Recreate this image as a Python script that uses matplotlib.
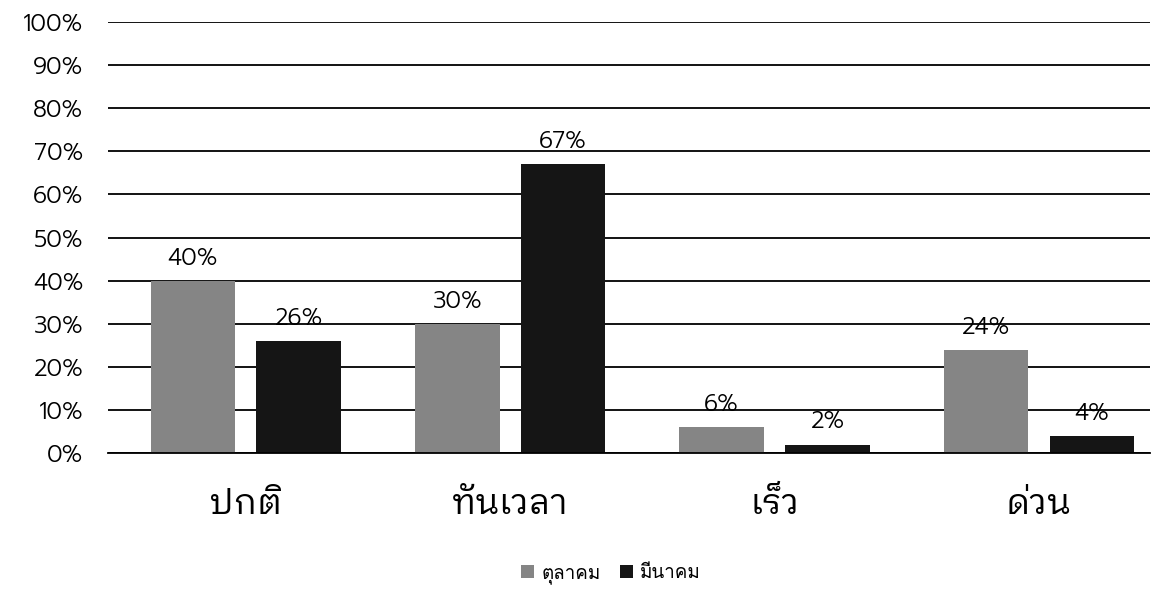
import numpy as np
import matplotlib
matplotlib.use("Agg")
import matplotlib.pyplot as plt
from matplotlib import font_manager as fm

categories = ["ปกติ", "ทันเวลา", "เร็ว", "ด่วน"]
series_names = ["ตุลาคม", "มีนาคม"]
oct_vals = [40, 30, 6, 24]
mar_vals = [26, 67, 2, 4]


def pick_font(families, weight, size):
    # choose a concrete file so the weight does not depend on cache order
    for family in families:
        cands = [f for f in fm.fontManager.ttflist
                 if f.name == family and f.style == "normal"]
        if cands:
            cands.sort(key=lambda f: (abs(int(f.weight) - weight) if str(f.weight).isdigit() else 500,
                                      "[" in f.fname))
            return fm.FontProperties(fname=cands[0].fname, size=size)
    return fm.FontProperties(family="DejaVu Sans", size=size)


num_prop = pick_font(["Prompt"], 300, 17)
lbl_prop = pick_font(["Prompt"], 300, 17)
cat_prop = pick_font(["IBM Plex Sans Thai Looped", "Noto Sans Thai Looped"], 400, 25)
leg_prop = pick_font(["Loma", "Noto Sans Thai Looped"], 400, 13.5)

fig, ax = plt.subplots(figsize=(11.64, 5.94), dpi=100)
fig.subplots_adjust(left=0.093, right=0.988, top=0.963, bottom=0.237)

x = np.arange(len(categories))
w = 0.32
off = 0.2
b1 = ax.bar(x - off, oct_vals, w, color="#858585", label=series_names[0], zorder=2)
b2 = ax.bar(x + off, mar_vals, w, color="#151515", label=series_names[1], zorder=2)

for bars, vals in [(b1, oct_vals), (b2, mar_vals)]:
    for r, v in zip(bars, vals):
        ax.text(r.get_x() + r.get_width() / 2, v + 2.6, "%d%%" % v,
                ha="center", va="bottom", fontproperties=lbl_prop, zorder=3)

ax.set_ylim(0, 100)
ax.set_xlim(-0.52, 3.42)
ax.set_yticks(range(0, 101, 10))
ax.set_yticklabels(["%d%%" % t for t in range(0, 101, 10)], fontproperties=num_prop)
ax.yaxis.grid(True, color="black", linewidth=1.3, zorder=1)
ax.set_axisbelow(True)
ax.tick_params(axis="y", length=0, pad=18)
ax.tick_params(axis="x", length=0, pad=24)
ax.set_xticks(x)
ax.set_xticklabels(categories, fontproperties=cat_prop)
for s in ["top", "right", "left"]:
    ax.spines[s].set_visible(False)
ax.spines["bottom"].set_linewidth(1.3)

fig.legend(handles=[b1, b2], labels=series_names, loc="lower center",
           bbox_to_anchor=(0.525, -0.012), ncol=2, frameon=False,
           prop=leg_prop,
           handlelength=0.7, handleheight=0.7, handletextpad=0.4, columnspacing=1.0)

plt.savefig("out.png", dpi=100)
